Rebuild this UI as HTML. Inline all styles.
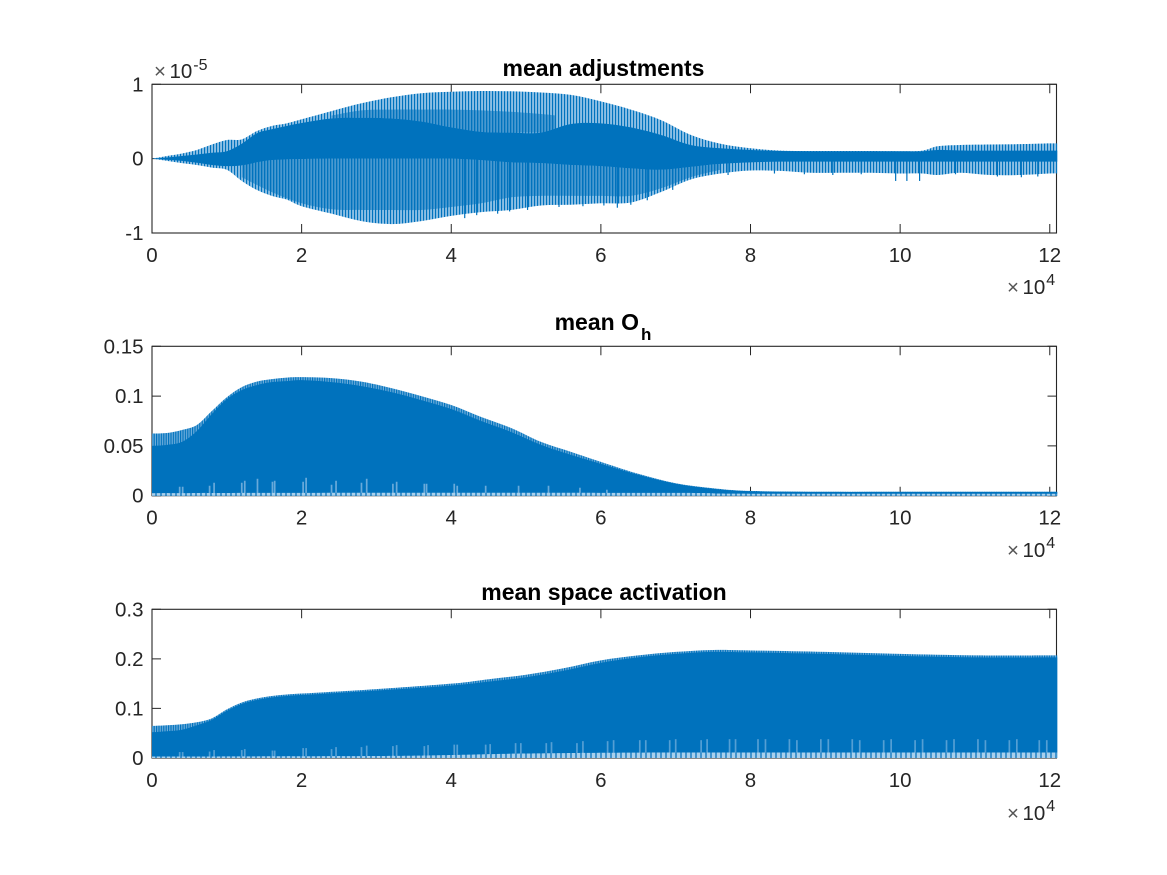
<!DOCTYPE html>
<html>
<head>
<meta charset="utf-8">
<title>mean adjustments, O_h and space activation</title>
<style>
html,body{margin:0;padding:0;background:#fff;}
svg{display:block;}
text{font-family:"Liberation Sans",sans-serif;}
.tick-label{font-size:20.5px;fill:#262626;}
.title{font-size:23px;font-weight:bold;fill:#000;}
</style>
</head>
<body>
<svg id="chart" xmlns="http://www.w3.org/2000/svg" width="1167" height="875" viewBox="0 0 1167 875">
<defs>
<pattern id="stripes" patternUnits="userSpaceOnUse" width="3" height="10">
<rect width="3" height="10" fill="#8cbfe4"/>
<rect width="1.1" height="10" fill="#0072BD"/>
</pattern>
<pattern id="stripes-mid" patternUnits="userSpaceOnUse" width="3" height="10">
<rect width="3" height="10" fill="#4a99d0"/>
<rect width="1.3" height="10" fill="#0072BD"/>
</pattern>
<pattern id="stripes-fine" patternUnits="userSpaceOnUse" width="2.4" height="10">
<rect width="2.4" height="10" fill="#6eaddb"/>
<rect width="1.2" height="10" fill="#0072BD"/>
</pattern>
<pattern id="floor-mottle" patternUnits="userSpaceOnUse" width="5" height="10">
<rect width="5" height="10" fill="#a9d0ec"/>
<rect width="2" height="10" fill="#3f93cd"/>
</pattern>
</defs>
</svg>
<script>
// ---------- axis tick labels ----------
const xTickValues = [0, 2, 4, 6, 8, 10, 12];
const xTickLabels = ['0', '2', '4', '6', '8', '10', '12'];
const adjYTicks = [-1, 0, 1];
const adjYLabels = ['-1', '0', '1'];
const ohYTicks = [0, 0.05, 0.1, 0.15];
const ohYLabels = ['0', '0.05', '0.1', '0.15'];
const spaceYTicks = [0, 0.1, 0.2, 0.3];
const spaceYLabels = ['0', '0.1', '0.2', '0.3'];

// ---------- mean adjustments (units of 1e-5 vs 1e4 iterations) ----------
const adjX = [0, 0.2, 0.4, 0.6, 0.8, 1.0, 1.2, 1.4, 1.6, 1.8, 2.0, 2.4, 2.8, 3.2, 3.6, 4.0, 4.4, 4.8, 5.2, 5.6, 6.0, 6.4, 6.8, 7.2, 7.6, 8.0, 8.4, 8.8, 9.2, 9.6, 10.0, 10.3, 10.5, 10.8, 11.2, 11.6, 12.0, 12.1];
const adjOuterUpper = [0, 0.036, 0.07, 0.117, 0.19, 0.25, 0.26, 0.37, 0.44, 0.475, 0.53, 0.64, 0.745, 0.825, 0.88, 0.9, 0.91, 0.906, 0.89, 0.857, 0.77, 0.66, 0.52, 0.32, 0.2, 0.14, 0.108, 0.103, 0.103, 0.103, 0.1, 0.108, 0.166, 0.184, 0.19, 0.195, 0.205, 0.205];
const adjDenseUpper = [0, 0.015, 0.035, 0.055, 0.08, 0.1, 0.2, 0.34, 0.395, 0.44, 0.48, 0.54, 0.55, 0.54, 0.5, 0.42, 0.36, 0.35, 0.35, 0.466, 0.475, 0.42, 0.32, 0.184, 0.14, 0.117, 0.103, 0.1, 0.1, 0.1, 0.1, 0.1, 0.117, 0.11, 0.108, 0.108, 0.108, 0.108];
const adjDenseLower = [0, -0.015, -0.03, -0.055, -0.085, -0.1, -0.09, -0.05, -0.02, -0.01, -0.005, 0, 0, 0, 0, 0, -0.02, -0.05, -0.06, -0.085, -0.1, -0.13, -0.15, -0.11, -0.07, -0.05, -0.04, -0.04, -0.04, -0.04, -0.04, -0.04, -0.04, -0.04, -0.04, -0.04, -0.04, -0.04];
const adjOuterLower = [0, -0.03, -0.06, -0.085, -0.12, -0.15, -0.3, -0.42, -0.5, -0.55, -0.64, -0.74, -0.84, -0.88, -0.84, -0.77, -0.72, -0.69, -0.63, -0.62, -0.6, -0.59, -0.45, -0.28, -0.2, -0.16, -0.165, -0.19, -0.19, -0.19, -0.2, -0.2, -0.22, -0.19, -0.22, -0.22, -0.2, -0.2];
const adjMidUpperX = [2.4, 2.8, 3.2, 3.6, 4.0, 4.4, 4.8, 5.2, 5.4];
const adjMidUpperTop = [0.58, 0.65, 0.66, 0.66, 0.66, 0.65, 0.63, 0.6, 0.58];
const adjMidUpperBase = [0.54, 0.55, 0.54, 0.5, 0.42, 0.36, 0.35, 0.35, 0.35];
const adjMidLowerX = [1.2, 1.6, 2.0, 2.4, 2.8, 3.2, 3.6, 4.0, 4.4, 4.8, 5.2, 5.6, 6.0, 6.4, 6.8, 7.2, 7.6];
const adjMidLowerTop = [-0.09, -0.02, -0.005, 0, 0, 0, 0, 0, -0.02, -0.05, -0.06, -0.085, -0.1, -0.13, -0.15, -0.11, -0.07];
const adjMidLowerBase = [-0.25, -0.45, -0.6, -0.68, -0.69, -0.69, -0.69, -0.65, -0.6, -0.52, -0.5, -0.5, -0.5, -0.5, -0.4, -0.25, -0.15];
const adjSpikeX = [4.18, 4.34, 4.62, 4.78, 5.02, 5.44, 5.76, 6.04, 6.22, 6.4, 6.62, 6.96, 7.36, 7.7, 8.32, 8.72, 9.1, 9.48, 9.94, 10.09, 10.26, 10.74, 11.3, 11.62, 11.84];
const adjSpikeValues = [-0.8, -0.76, -0.74, -0.71, -0.69, -0.65, -0.64, -0.63, -0.66, -0.62, -0.56, -0.42, -0.24, -0.22, -0.2, -0.21, -0.22, -0.21, -0.3, -0.3, -0.3, -0.21, -0.24, -0.25, -0.24];

// ---------- mean O_h ----------
const ohX = [0, 0.2, 0.4, 0.6, 0.8, 1.0, 1.2, 1.4, 1.6, 1.8, 2.0, 2.4, 2.8, 3.2, 3.6, 4.0, 4.4, 4.8, 5.2, 5.6, 6.0, 6.5, 7.0, 7.5, 8.0, 9.0, 10.0, 11.0, 12.1];
const ohOuter = [0.0625, 0.063, 0.066, 0.071, 0.085, 0.0988, 0.109, 0.1145, 0.117, 0.1186, 0.119, 0.118, 0.1145, 0.108, 0.1, 0.091, 0.079, 0.068, 0.054, 0.044, 0.034, 0.022, 0.0125, 0.0075, 0.0048, 0.004, 0.004, 0.004, 0.004];
const ohDense = [0.05, 0.051, 0.054, 0.065, 0.082, 0.097, 0.106, 0.111, 0.114, 0.115, 0.116, 0.114, 0.11, 0.104, 0.096, 0.087, 0.075, 0.064, 0.051, 0.041, 0.032, 0.021, 0.012, 0.007, 0.0045, 0.0038, 0.0038, 0.0038, 0.0038];
const ohGapX = [0.37, 0.41, 0.77, 0.83, 1.2, 1.24, 1.41, 1.61, 1.64, 2.02, 2.06, 2.4, 2.46, 2.8, 2.87, 3.22, 3.27, 3.64, 3.67, 4.04, 4.08, 4.46, 4.9, 5.3, 5.72, 6.08];
const ohGapValues = [0.009, 0.009, 0.01, 0.013, 0.013, 0.015, 0.017, 0.014, 0.015, 0.014, 0.018, 0.011, 0.015, 0.013, 0.017, 0.012, 0.014, 0.012, 0.012, 0.012, 0.01, 0.01, 0.01, 0.01, 0.008, 0.006];
const ohFloorX = [0, 3, 7, 8, 12.1];
const ohFloorValues = [0.0025, 0.003, 0.0028, 0.002, 0.002];

// ---------- mean space activation ----------
const spaceX = [0, 0.2, 0.4, 0.6, 0.8, 1.0, 1.2, 1.4, 1.6, 1.8, 2.0, 3.0, 4.0, 4.5, 5.0, 5.5, 6.0, 6.5, 7.0, 7.5, 8.0, 9.0, 10.0, 11.0, 12.1];
const spaceOuter = [0.0645, 0.066, 0.068, 0.072, 0.08, 0.098, 0.112, 0.12, 0.125, 0.128, 0.13, 0.139, 0.15, 0.159, 0.168, 0.181, 0.197, 0.207, 0.214, 0.218, 0.217, 0.214, 0.21, 0.207, 0.207];
const spaceDense = [0.052, 0.054, 0.057, 0.066, 0.077, 0.095, 0.109, 0.117, 0.122, 0.125, 0.127, 0.136, 0.146, 0.154, 0.163, 0.176, 0.192, 0.203, 0.21, 0.214, 0.213, 0.21, 0.206, 0.203, 0.203];
const spaceGapX = [0.37, 0.41, 0.77, 0.83, 1.2, 1.24, 1.61, 1.64, 2.02, 2.06, 2.4, 2.46, 2.8, 2.87, 3.22, 3.27, 3.64, 3.69, 4.04, 4.08, 4.46, 4.52, 4.86, 4.93, 5.27, 5.34, 5.68, 5.76, 6.09, 6.17, 6.52, 6.6, 6.92, 7.0, 7.34, 7.42, 7.72, 7.8, 8.1, 8.2, 8.52, 8.62, 8.94, 9.04, 9.36, 9.46, 9.78, 9.88, 10.2, 10.3, 10.62, 10.72, 11.04, 11.14, 11.46, 11.56, 11.86, 11.96];
const spaceGapValues = [0.012, 0.012, 0.013, 0.016, 0.016, 0.018, 0.015, 0.015, 0.02, 0.02, 0.018, 0.022, 0.022, 0.025, 0.024, 0.026, 0.024, 0.026, 0.027, 0.027, 0.027, 0.028, 0.03, 0.03, 0.03, 0.032, 0.03, 0.034, 0.034, 0.036, 0.036, 0.036, 0.036, 0.038, 0.036, 0.038, 0.038, 0.038, 0.038, 0.038, 0.038, 0.036, 0.038, 0.038, 0.038, 0.036, 0.036, 0.038, 0.036, 0.038, 0.036, 0.038, 0.038, 0.036, 0.036, 0.038, 0.036, 0.036];
const spaceFloorX = [0, 3, 4, 5, 7, 12.1];
const spaceFloorValues = [0.003, 0.004, 0.006, 0.009, 0.011, 0.011];

// ---------- layout and axis functions ----------
const NS = 'http://www.w3.org/2000/svg';
const svg = document.getElementById('chart');
const LEFT = 152, RIGHT = 1056.5;
const X_MAX = 12.09;
function xScale(v) { return LEFT + v / X_MAX * (RIGHT - LEFT); }
function yScaleFor(top, bottom, min, max) {
  return function (v) { return bottom - (v - min) / (max - min) * (bottom - top); };
}

function drawFrame(g, top, bottom, yScale, yTicks, yLabels, prefix) {
  const bg = document.createElementNS(NS, 'rect');
  
  
  bg.setAttribute('x', LEFT);
  bg.setAttribute('y', top);
  bg.setAttribute('width', RIGHT - LEFT);
  bg.setAttribute('height', bottom - top);
  bg.setAttribute('fill', '#fff');
  bg.setAttribute('stroke', '#262626');
  bg.setAttribute('stroke-width', '1.1');
  g.appendChild(bg);

  xTickValues.forEach(function (v, i) {
    const px = xScale(v);
    const t = document.createElementNS(NS, 'path');
    
    
    t.setAttribute('d', 'M' + px + ' ' + bottom + 'v-9M' + px + ' ' + top + 'v9');
    t.setAttribute('stroke', '#262626');
    t.setAttribute('stroke-width', '1');
    t.setAttribute('fill', 'none');
    g.appendChild(t);

    const l = document.createElementNS(NS, 'text');
    
    
    l.setAttribute('class', 'tick-label');
    l.setAttribute('x', px);
    l.setAttribute('y', bottom + 29);
    l.setAttribute('text-anchor', 'middle');
    l.textContent = xTickLabels[i];
    g.appendChild(l);
  });

  yTicks.forEach(function (v, i) {
    const py = yScale(v);
    const t = document.createElementNS(NS, 'path');
    
    
    t.setAttribute('d', 'M' + LEFT + ' ' + py + 'h9M' + RIGHT + ' ' + py + 'h-9');
    t.setAttribute('stroke', '#262626');
    t.setAttribute('stroke-width', '1');
    t.setAttribute('fill', 'none');
    g.appendChild(t);

    const l = document.createElementNS(NS, 'text');
    
    
    l.setAttribute('class', 'tick-label');
    l.setAttribute('x', 143.5);
    l.setAttribute('y', py + 7);
    l.setAttribute('text-anchor', 'end');
    l.textContent = yLabels[i];
    g.appendChild(l);
  });
}

// Smooth curve through the given screen points (Catmull-Rom to Bezier).
function curveThrough(pts) {
  let d = '';
  for (let i = 0; i < pts.length - 1; i++) {
    const p0 = pts[Math.max(i - 1, 0)];
    const p1 = pts[i];
    const p2 = pts[i + 1];
    const p3 = pts[Math.min(i + 2, pts.length - 1)];
    const c1x = p1[0] + (p2[0] - p0[0]) / 6;
    const c1y = p1[1] + (p2[1] - p0[1]) / 6;
    const c2x = p2[0] - (p3[0] - p1[0]) / 6;
    const c2y = p2[1] - (p3[1] - p1[1]) / 6;
    d += 'C' + c1x.toFixed(2) + ' ' + c1y.toFixed(2) + ' ' + c2x.toFixed(2) + ' ' + c2y.toFixed(2) + ' ' + p2[0].toFixed(2) + ' ' + p2[1].toFixed(2);
  }
  return d;
}

function bandPath(xs, hi, lo, yScale) {
  const upper = xs.map(function (x, i) { return [xScale(x), yScale(hi[i])]; });
  const lower = xs.map(function (x, i) { return [xScale(x), yScale(lo[i])]; }).reverse();
  return 'M' + upper[0][0].toFixed(2) + ' ' + upper[0][1].toFixed(2) + curveThrough(upper) +
    'L' + lower[0][0].toFixed(2) + ' ' + lower[0][1].toFixed(2) + curveThrough(lower) + 'Z';
}

function drawBand(g, xs, hi, lo, yScale, fill, name) {
  const p = document.createElementNS(NS, 'path');
  
  
  p.setAttribute('d', bandPath(xs, hi, lo, yScale));
  p.setAttribute('fill', fill);
  g.appendChild(p);
}

function drawGaps(g, xs, values, yScale, stroke, name) {
  xs.forEach(function (x, i) {
    const l = document.createElementNS(NS, 'line');
    
    
    l.setAttribute('x1', xScale(x));
    l.setAttribute('x2', xScale(x));
    l.setAttribute('y1', yScale(0));
    l.setAttribute('y2', yScale(values[i]));
    l.setAttribute('stroke', stroke);
    l.setAttribute('stroke-width', '1.7');
    g.appendChild(l);
  });
}

function drawScaleNote(g, xPos, baseline, exponent, supRaise, name) {
  const t = document.createElementNS(NS, 'text');
  
  
  t.setAttribute('class', 'tick-label');
  t.setAttribute('x', xPos);
  t.setAttribute('y', baseline);
  t.setAttribute('font-size', '20');
  const m = document.createElementNS(NS, 'tspan');
  
  
  m.setAttribute('fill', '#555');
  m.textContent = '\u00d7';
  t.appendChild(m);
  const a = document.createElementNS(NS, 'tspan');
  
  
  a.setAttribute('dx', '3.5');
  a.textContent = '10';
  t.appendChild(a);
  const b = document.createElementNS(NS, 'tspan');
  
  
  b.setAttribute('dy', -supRaise);
  b.setAttribute('dx', '1');
  b.setAttribute('font-size', '16');
  b.textContent = exponent;
  t.appendChild(b);
  g.appendChild(t);
}

function drawTitle(g, cx, baseline, text, sub, name) {
  const t = document.createElementNS(NS, 'text');
  
  
  t.setAttribute('class', 'title');
  t.setAttribute('x', cx);
  t.setAttribute('y', baseline);
  t.setAttribute('text-anchor', 'middle');
  t.textContent = text;
  if (sub) {
    const s = document.createElementNS(NS, 'tspan');
    
    
    s.setAttribute('dy', '10');
    s.setAttribute('dx', '2');
    s.setAttribute('font-size', '17');
    s.textContent = sub;
    t.appendChild(s);
  }
  g.appendChild(t);
}

function makePanel(name) {
  const g = document.createElementNS(NS, 'g');
  
  
  svg.appendChild(g);
  return g;
}

// ---------- panel 1 ----------
const p1 = makePanel('mean-adjustments-panel');
const y1 = yScaleFor(84.3, 233, -1, 1);
drawFrame(p1, 84.3, 233, y1, adjYTicks, adjYLabels, 'adjustments');
drawBand(p1, adjX, adjOuterUpper, adjOuterLower, y1, 'url(#stripes)', 'adjustments-outer-envelope');
drawBand(p1, adjMidUpperX, adjMidUpperTop, adjMidUpperBase, y1, 'url(#stripes-mid)', 'adjustments-upper-mid-band');
drawBand(p1, adjMidLowerX, adjMidLowerTop, adjMidLowerBase, y1, 'url(#stripes-mid)', 'adjustments-lower-mid-band');
drawBand(p1, adjX, adjDenseUpper, adjDenseLower, y1, '#0072BD', 'adjustments-dense-band');
adjSpikeX.forEach(function (x, i) {
  const s = document.createElementNS(NS, 'line');
  
  
  s.setAttribute('x1', xScale(x));
  s.setAttribute('x2', xScale(x));
  s.setAttribute('y1', y1(0));
  s.setAttribute('y2', y1(adjSpikeValues[i]));
  s.setAttribute('stroke', '#0072BD');
  s.setAttribute('stroke-width', '1.2');
  p1.appendChild(s);
});
drawTitle(p1, 603.5, 76, 'mean adjustments', '', 'adjustments-title');
drawScaleNote(p1, 154, 78, '-5', 8, 'adjustments-y-scale-note');
drawScaleNote(p1, 1007, 294, '4', 9, 'adjustments-x-scale-note');

// ---------- panel 2 ----------
const p2 = makePanel('mean-oh-panel');
const y2 = yScaleFor(346.3, 495.7, 0, 0.15);
const ohZero = ohX.map(function () { return 0; });
const ohFloorZero = ohFloorX.map(function () { return 0; });
drawFrame(p2, 346.3, 495.7, y2, ohYTicks, ohYLabels, 'oh');
drawBand(p2, ohX, ohOuter, ohZero, y2, 'url(#stripes-fine)', 'oh-outer-envelope');
drawBand(p2, ohX, ohDense, ohZero, y2, '#0072BD', 'oh-dense-band');
drawGaps(p2, ohGapX, ohGapValues, y2, 'rgba(140,190,228,0.75)', 'oh-gap-line');
drawBand(p2, ohFloorX, ohFloorValues, ohFloorZero, y2, 'url(#floor-mottle)', 'oh-baseline-band');
drawTitle(p2, 603, 330, 'mean O', 'h', 'oh-title');
drawScaleNote(p2, 1007, 557, '4', 9, 'oh-x-scale-note');

// ---------- panel 3 ----------
const p3 = makePanel('mean-space-activation-panel');
const y3 = yScaleFor(609.3, 758, 0, 0.3);
const spaceZero = spaceX.map(function () { return 0; });
const spaceFloorZero = spaceFloorX.map(function () { return 0; });
drawFrame(p3, 609.3, 758, y3, spaceYTicks, spaceYLabels, 'space');
drawBand(p3, spaceX, spaceOuter, spaceZero, y3, 'url(#stripes-fine)', 'space-outer-envelope');
drawBand(p3, spaceX, spaceDense, spaceZero, y3, '#0072BD', 'space-dense-band');
drawGaps(p3, spaceGapX, spaceGapValues, y3, 'rgba(120,178,222,0.7)', 'space-gap-line');
drawBand(p3, spaceFloorX, spaceFloorValues, spaceFloorZero, y3, 'url(#floor-mottle)', 'space-baseline-band');
drawTitle(p3, 604, 600, 'mean space activation', '', 'space-title');
drawScaleNote(p3, 1007, 820, '4', 9, 'space-x-scale-note');
</script>
</body>
</html>
